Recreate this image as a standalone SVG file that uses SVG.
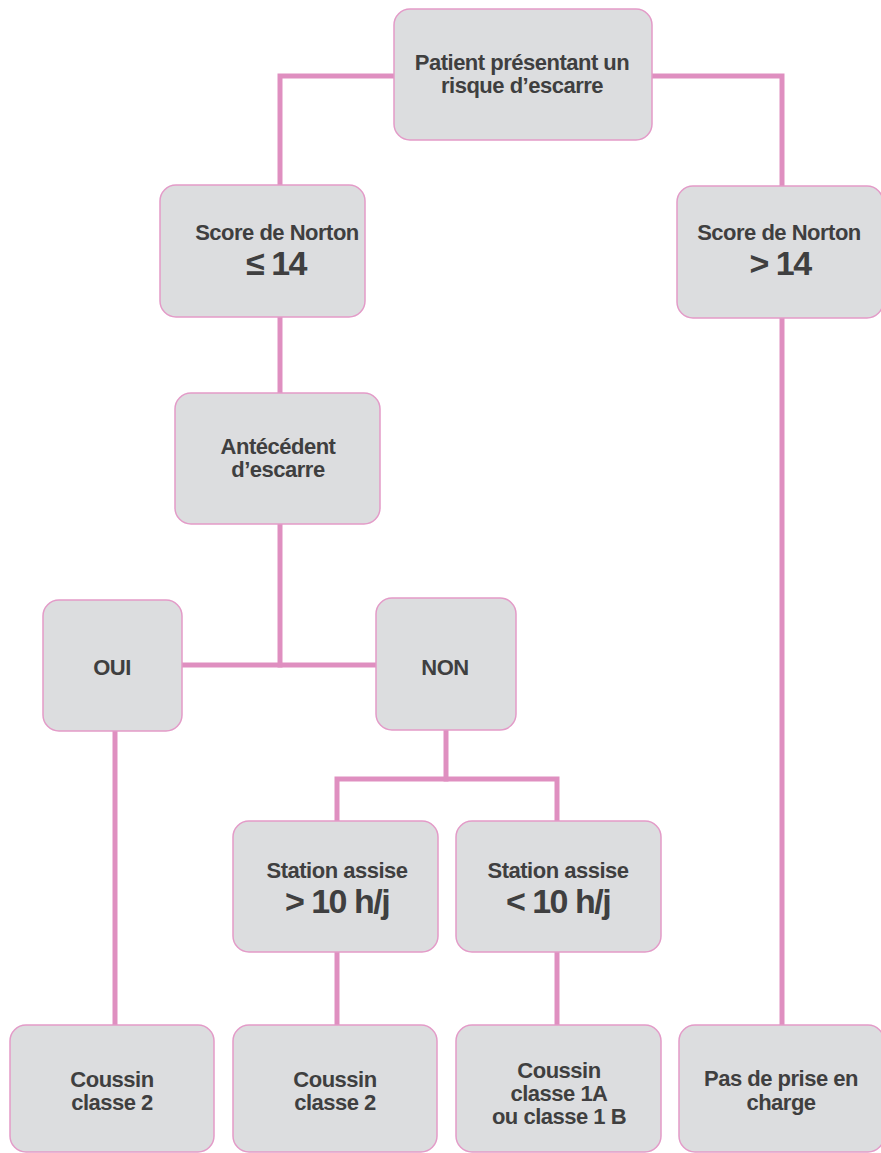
<svg xmlns="http://www.w3.org/2000/svg" width="881" height="1153" viewBox="0 0 881 1153">
<style>
.box{fill:#dcdddf;stroke:#e39bc8;stroke-width:1.5}
.t{font-family:"Liberation Sans",Arial,sans-serif;font-weight:bold;font-size:22px;letter-spacing:-0.5px;fill:#3f3f40;text-anchor:middle}
.big{font-size:34px;letter-spacing:-1.5px}
.c{fill:none;stroke:#df8fc0;stroke-width:5;stroke-linecap:square;stroke-linejoin:miter}
</style>
<rect width="881" height="1153" fill="#ffffff"/>
<g id="connectors">
<path class="c" d="M394,76 H280 V185"/>
<path class="c" d="M652,76 H782 V186"/>
<path class="c" d="M280,317 V393"/>
<path class="c" d="M280,524 V665"/>
<path class="c" d="M182,665 H376"/>
<path class="c" d="M115,731 V1025"/>
<path class="c" d="M446,730 V779"/>
<path class="c" d="M337,821 V779 H557 V821"/>
<path class="c" d="M337,952 V1025"/>
<path class="c" d="M557,952 V1025"/>
<path class="c" d="M782,318 V1025"/>
</g>
<g id="n_patient">
<rect class="box" x="394" y="9" width="258" height="131" rx="16"/>
<text class="t" x="522" y="70">Patient présentant un</text>
<text class="t" x="522" y="93">risque d’escarre</text>
</g>
<g id="n_norton_le">
<rect class="box" x="160" y="185" width="205" height="132" rx="16"/>
<text class="t" x="277" y="240">Score de Norton</text>
<text class="t big" x="276" y="275">≤ 14</text>
</g>
<g id="n_norton_gt">
<rect class="box" x="677" y="186" width="206" height="132" rx="16"/>
<text class="t" x="779" y="240">Score de Norton</text>
<text class="t big" x="780" y="275">&gt; 14</text>
</g>
<g id="n_antecedent">
<rect class="box" x="175" y="393" width="205" height="131" rx="16"/>
<text class="t" x="278" y="454">Antécédent</text>
<text class="t" x="278" y="477">d’escarre</text>
</g>
<g id="n_oui">
<rect class="box" x="43" y="600" width="139" height="131" rx="16"/>
<text class="t" x="112" y="675">OUI</text>
</g>
<g id="n_non">
<rect class="box" x="376" y="598" width="140" height="132" rx="16"/>
<text class="t" x="445" y="675">NON</text>
</g>
<g id="n_station_gt">
<rect class="box" x="233" y="821" width="205" height="131" rx="16"/>
<text class="t" x="337" y="878">Station assise</text>
<text class="t big" x="337" y="913">&gt; 10 h/j</text>
</g>
<g id="n_station_lt">
<rect class="box" x="456" y="821" width="205" height="131" rx="16"/>
<text class="t" x="558" y="878">Station assise</text>
<text class="t big" x="558" y="913">&lt; 10 h/j</text>
</g>
<g id="n_coussin2_a">
<rect class="box" x="10" y="1025" width="204" height="127" rx="16"/>
<text class="t" x="112" y="1087">Coussin</text>
<text class="t" x="112" y="1110">classe 2</text>
</g>
<g id="n_coussin2_b">
<rect class="box" x="233" y="1025" width="204" height="127" rx="16"/>
<text class="t" x="335" y="1087">Coussin</text>
<text class="t" x="335" y="1110">classe 2</text>
</g>
<g id="n_coussin1">
<rect class="box" x="456" y="1025" width="205" height="127" rx="16"/>
<text class="t" x="559" y="1078">Coussin</text>
<text class="t" x="559" y="1101">classe 1A</text>
<text class="t" x="559" y="1124">ou classe 1 B</text>
</g>
<g id="n_pas_prise">
<rect class="box" x="679" y="1025" width="205" height="127" rx="16"/>
<text class="t" x="781" y="1086">Pas de prise en</text>
<text class="t" x="781" y="1110">charge</text>
</g>
</svg>
